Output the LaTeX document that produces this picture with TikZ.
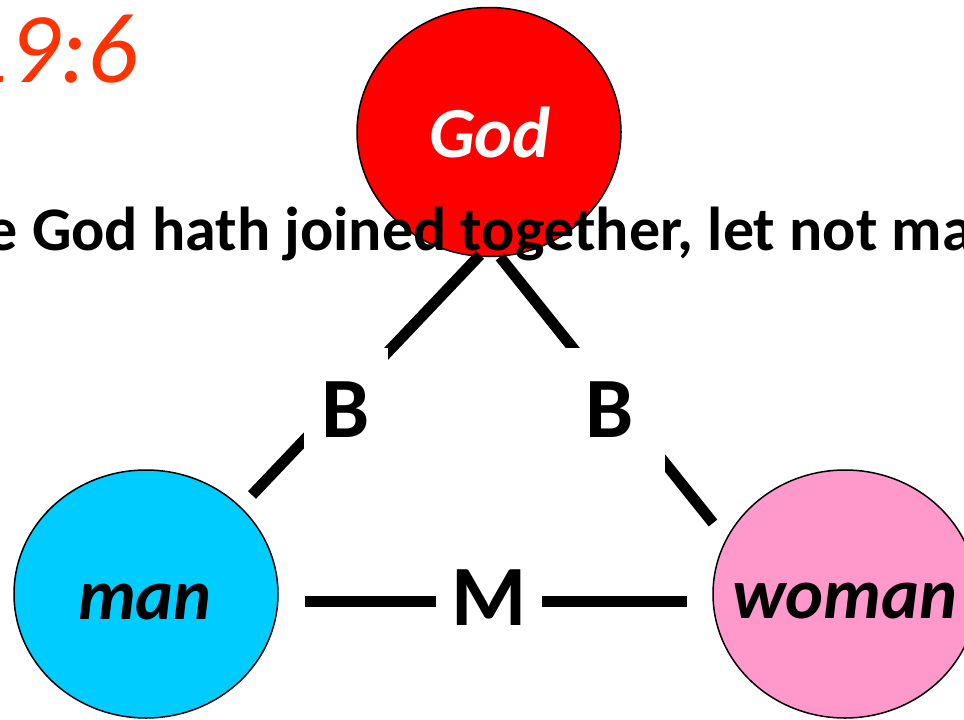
\documentclass[tikz,border=0pt]{standalone}
\usepackage{fontspec}
\setmainfont{Carlito}
\usetikzlibrary{shapes.geometric}
\definecolor{godred}{HTML}{FF0000}
\definecolor{mancyan}{HTML}{00CCFF}
\definecolor{womanpink}{HTML}{FF99CC}
\definecolor{refred}{HTML}{FF3300}
\begin{document}
\begin{tikzpicture}[x=1pt,y=-1pt,
  person/.style={ellipse, draw=black, line width=1.5pt, inner sep=0pt, minimum width=264pt, minimum height=249pt},
  bond/.style={line width=11pt, black},
  letter/.style={fill=white, inner sep=0pt, font=\fontsize{86}{86}\selectfont\bfseries, minimum height=124pt},
  names/.style={anchor=base, inner sep=0pt, font=\fontsize{72}{72}\selectfont\bfseries\itshape}]
\useasboundingbox (0,0) rectangle (964,720);
\clip (0,0) rectangle (964,720);
% reference
\node[anchor=base east, inner sep=0pt, text=refred, font=\fontsize{100}{100}\selectfont\itshape] (ref) at (138,82) {Matthew 19:6};
% circles
\node[person, fill=godred] (god) at (489,132) {};
\node[person, fill=mancyan, minimum height=248pt] (man) at (146,594) {};
\node[person, fill=womanpink, minimum height=248pt] (woman) at (845,594) {};
\node[names, text=white] (godtext) at (490,157) {God};
\node[names, text=black] (mantext) at (145,619) {man};
\node[names, text=black] (womantext) at (845,618) {woman};
% line end points
\coordinate (gl) at (480,255);
\coordinate (gr) at (500,257);
\coordinate (ml) at (252,495);
\coordinate (wr) at (713,523);
\coordinate (mm) at (305,601);
\coordinate (wm) at (687,601);
\draw[bond] (gl) -- (ml);
\draw[bond] (gr) -- (wr);
\draw[bond] (mm) -- (wm);
% letters
\node[letter, minimum width=84pt] (b1) at (346,410) {B};
\node[letter, minimum width=110pt] (b2) at (610,410) {B};
\node[letter, minimum width=106pt, minimum height=80pt] (m) at (489,598) {M};
% verse
\node[anchor=base west, inner sep=0pt, font=\fontsize{62}{62}\selectfont\bfseries] (verse) at (32,250) {\llap{What therefore }God hath joined together, let not man put asunder.};
\end{tikzpicture}
\end{document}
